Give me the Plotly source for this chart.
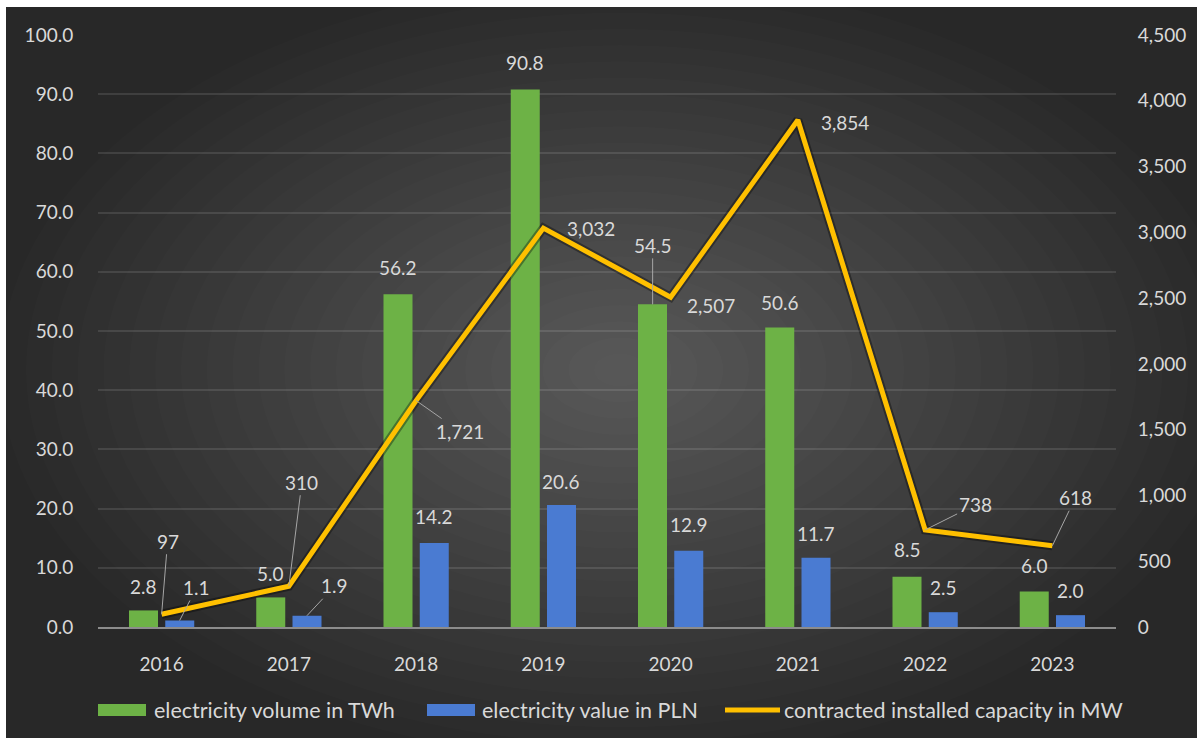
import plotly.graph_objects as go

# ---------------- data ----------------
years = ["2016", "2017", "2018", "2019", "2020", "2021", "2022", "2023"]
volume_twh = [2.8, 5.0, 56.2, 90.8, 54.5, 50.6, 8.5, 6.0]
value_pln = [1.1, 1.9, 14.2, 20.6, 12.9, 11.7, 2.5, 2.0]
capacity_mw = [97, 310, 1721, 3032, 2507, 3854, 738, 618]

left_ticks = [0, 10, 20, 30, 40, 50, 60, 70, 80, 90, 100]
right_ticks = [0, 500, 1000, 1500, 2000, 2500, 3000, 3500, 4000, 4500]

names = ["electricity volume in TWh", "electricity value in PLN",
         "contracted installed capacity in MW"]

# ---------------- style ----------------
W, H = 1197, 742
ML, MR, MT, MB = 98, 81, 35, 115
PW, PH = W - ML - MR, H - MT - MB
FONT = "Lato"
FS = 19
LFS = 21.5
TXT = "#d9d9d9"
LEAD = "#a6a6a6"
GREEN = "#6db246"
BLUE = "#4a7bd2"
GOLD = "#FFC000"

# label placement per point: (mode, dx, dy) ; mode 'a' = leader line (ax, ay), 's' = shift
green_lab = [("s", 0, 24), ("s", 0, 24), ("s", 0, 27), ("s", 0, 27),
             ("a", 0, -59), ("s", 0, 25), ("s", 0, 27), ("s", 0, 26)]
blue_lab = [("a", 17, -33), ("a", 28, -30), ("s", 0, 26), ("s", 0, 24),
            ("s", 0, 26), ("s", 0, 24), ("s", 0, 25), ("s", 0, 25)]
line_lab = [("a", 6, -73), ("a", 13, -104), ("a", 44, 31), ("s", 48, 0),
            ("s", 40, -8), ("s", 47, -3), ("a", 50, -25), ("a", 23, -48)]


def px_x(p):
    return (p - ML) / PW


def px_y(p):
    return (H - MB - p) / PH


fig = go.Figure()
fig.add_trace(go.Bar(x=years, y=volume_twh, name=names[0], marker_color=GREEN,
                     marker_line_width=0, showlegend=False))
fig.add_trace(go.Bar(x=years, y=value_pln, name=names[1], marker_color=BLUE,
                     marker_line_width=0, showlegend=False))
# soft shadow under the line
fig.add_trace(go.Scatter(x=years, y=capacity_mw, yaxis="y2", mode="lines",
                         line=dict(color="rgba(0,0,0,0.35)", width=9),
                         hoverinfo="skip", showlegend=False))
fig.add_trace(go.Scatter(x=years, y=capacity_mw, yaxis="y2", mode="lines",
                         name=names[2], line=dict(color=GOLD, width=5),
                         showlegend=False))

annotations = []


def add_labels(vals, texts, lab, yref, xshift):
    for i, (v, t, (mode, dx, dy)) in enumerate(zip(vals, texts, lab)):
        base = dict(x=i, y=v, xref="x", yref=yref, text=t,
                    font=dict(family=FONT, size=FS, color=TXT), xshift=xshift)
        if mode == "a":
            base.update(showarrow=True, ax=dx, ay=dy, arrowhead=0, arrowwidth=1,
                        arrowcolor=LEAD, standoff=0, startstandoff=0)
        else:
            base.update(showarrow=False, xanchor="center", yanchor="middle")
            base["xshift"] = xshift + dx
            base["yshift"] = dy
        annotations.append(base)


add_labels(volume_twh, [f"{v:.1f}" for v in volume_twh], green_lab, "y", -18)
add_labels(value_pln, [f"{v:.1f}" for v in value_pln], blue_lab, "y", 18)
add_labels(capacity_mw, [f"{v:,}" for v in capacity_mw], line_lab, "y2", 0)

# ---------------- background panel with radial glow ----------------
shapes = [dict(type="rect", xref="paper", yref="paper", layer="below",
               x0=px_x(6), x1=px_x(W + 2), y0=px_y(738), y1=px_y(7),
               fillcolor="#282828", line_width=0)]
cx, cy, rx0, ry0 = 620, 370, 620, 390
steps = 24
for i in range(steps):
    f = 1 - i / steps
    rx, ry = rx0 * f, ry0 * f
    shapes.append(dict(type="circle", xref="paper", yref="paper", layer="below",
                       x0=px_x(cx - rx), x1=px_x(cx + rx),
                       y0=px_y(cy + ry), y1=px_y(cy - ry),
                       fillcolor="rgba(255,255,255,0.0105)", line_width=0))

# ---------------- custom legend ----------------
ly = 710
legend_items = [
    ("rect", GREEN, 98, 146, 152, names[0]),
    ("rect", BLUE, 427, 475, 480, names[1]),
    ("line", GOLD, 725, 780, 782, names[2]),
]
for kind, col, a, b, tx, label in legend_items:
    if kind == "rect":
        shapes.append(dict(type="rect", xref="paper", yref="paper",
                           x0=px_x(a), x1=px_x(b), y0=px_y(ly + 6), y1=px_y(ly - 6),
                           fillcolor=col, line_width=0))
    else:
        shapes.append(dict(type="line", xref="paper", yref="paper",
                           x0=px_x(a), x1=px_x(b), y0=px_y(ly), y1=px_y(ly),
                           line=dict(color=col, width=5)))
    annotations.append(dict(x=px_x(tx), y=px_y(ly), xref="paper", yref="paper",
                            text=label, showarrow=False, xanchor="left",
                            yanchor="middle",
                            font=dict(family=FONT, size=LFS, color=TXT)))

fig.update_layout(
    width=W, height=H,
    margin=dict(l=ML, r=MR, t=MT, b=MB, pad=0),
    paper_bgcolor="white",
    plot_bgcolor="rgba(0,0,0,0)",
    font=dict(family=FONT, size=FS, color=TXT),
    barmode="group", bargap=0.43, bargroupgap=0.2,
    showlegend=False,
    xaxis=dict(type="category", range=[-0.5, 7.5], autorange=False,
               showgrid=False, showline=True,
               linecolor="#8c8c8c", linewidth=1.5, ticks="outside", ticklen=19,
               tickcolor="rgba(0,0,0,0)", tickfont=dict(size=FS, color=TXT),
               zeroline=False, fixedrange=True),
    yaxis=dict(range=[0, 100], tickvals=left_ticks, tickformat=".1f",
               showgrid=True, gridcolor="rgba(255,255,255,0.11)", gridwidth=1.5,
               zeroline=False, showline=False, ticks="outside", ticklen=20,
               tickcolor="rgba(0,0,0,0)", tickfont=dict(size=FS, color=TXT)),
    yaxis2=dict(range=[0, 4500], tickvals=right_ticks, tickformat=",",
                overlaying="y", side="right", showgrid=False, zeroline=False,
                showline=False, ticks="outside", ticklen=17,
                tickcolor="rgba(0,0,0,0)", tickfont=dict(size=FS, color=TXT)),
    shapes=shapes,
    annotations=annotations,
)

fig.write_html("out.html",
               config={"displayModeBar": False},
               post_script="document.body.style.margin='0';"
                           "document.body.style.overflow='hidden';")
